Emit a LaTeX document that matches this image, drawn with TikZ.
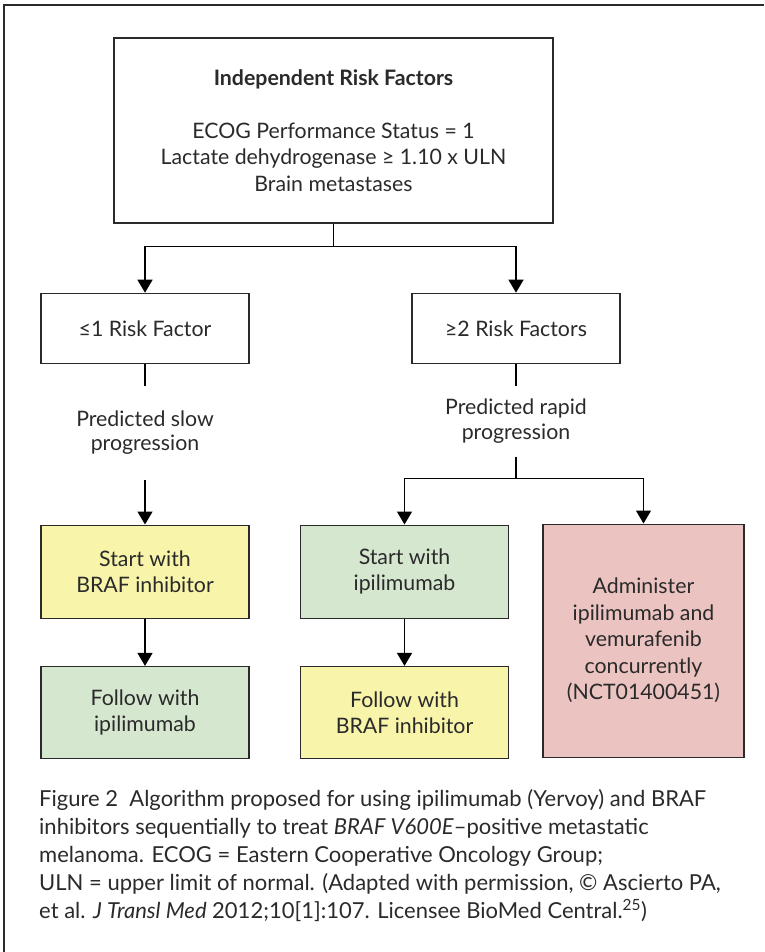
\documentclass[tikz,border=0pt]{standalone}
\usepackage{fontspec}
\setmainfont{Lato}
\usetikzlibrary{positioning,arrows.meta}

\definecolor{ink}{RGB}{42,42,42}
\definecolor{braffill}{RGB}{248,244,170}
\definecolor{ipifill}{RGB}{214,231,208}
\definecolor{combofill}{RGB}{235,195,193}

\tikzset{
  box/.style={draw=ink, line width=1.4pt, text=ink, align=center, inner sep=0pt,
    minimum width=208pt, minimum height=70pt, font=\fontsize{21.3}{26.5}\selectfont},
  note/.style={text=ink, align=center, inner sep=0pt, font=\fontsize{21.3}{24.5}\selectfont},
  link/.style={line width=1.4pt, draw=black},
  arr/.style={link, -{Triangle[width=15pt,length=13pt]}},
}

\begin{document}
\begin{tikzpicture}[x=1pt,y=-1pt]
  \useasboundingbox (0,0) rectangle (764,952);
  \draw[ink, line width=1.2pt] (4,952) -- (4,5) -- (764,5);

  \node[box, minimum width=439pt, minimum height=185pt] (irf) at (333.5,130.5)
    {\textbf{Independent Risk Factors}\\[26.5pt]
     ECOG Performance Status = 1\\
     Lactate dehydrogenase ≥ 1.10 x ULN\\
     Brain metastases};

  \node[box, below=69pt of irf.south, xshift=-188.5pt] (one) {≤1 Risk Factor};
  \node[box, below=69pt of irf.south, xshift=182.5pt] (two) {≥2 Risk Factors};

  \node[note, minimum height=93pt, below=22pt of one] (slow) {Predicted slow\\progression};
  \node[note, minimum height=70pt, below=22pt of two] (rapid) {Predicted rapid\\progression};

  \node[box, fill=braffill, minimum height=93pt, below=45pt of slow] (startb) {Start with\\BRAF inhibitor};
  \node[box, fill=ipifill, minimum height=92pt, below=47pt of startb] (followi) {Follow with\\ipilimumab};

  \node[box, fill=ipifill, minimum height=93pt, below=68pt of rapid, xshift=-111.5pt] (starti) {Start with\\ipilimumab};
  \node[box, fill=braffill, minimum height=92pt, below=47pt of starti] (followb) {Follow with\\BRAF inhibitor};
  \node[box, fill=combofill, minimum width=201pt, minimum height=233pt, below=67pt of rapid, xshift=127.5pt] (combo)
    {Administer\\ipilimumab and\\vemurafenib\\concurrently\\(NCT01400451)};

  \draw[arr] (irf.south) -- ++(0,23) -| (one);
  \draw[arr] (irf.south) -- ++(0,23) -| (two);
  \draw[link] (one) -- (slow);
  \draw[arr] (slow) -- (startb);
  \draw[arr] (startb) -- (followi);
  \draw[link] (two) -- (rapid);
  \draw[arr] (rapid.south) -- ++(0,22) -| (starti);
  \draw[arr] (rapid.south) -- ++(0,22) -| (combo);
  \draw[arr] (starti) -- (followb);

  \node[anchor=north west, align=left, inner sep=0pt, text=ink,
    font=\fontsize{22}{28}\selectfont] (caption) at (39,789)
    {Figure 2\ \ Algorithm proposed for using ipilimumab (Yervoy) and BRAF\\
     inhibitors sequentially to treat \textit{BRAF V600E}–positive metastatic\\
     melanoma. ECOG = Eastern Cooperative Oncology Group;\\
     ULN = upper limit of normal. (Adapted with permission, © Ascierto PA,\\
     et al. \textit{J Transl Med} 2012;10[1]:107. Licensee BioMed Central.\textsuperscript{25})};
\end{tikzpicture}
\end{document}
